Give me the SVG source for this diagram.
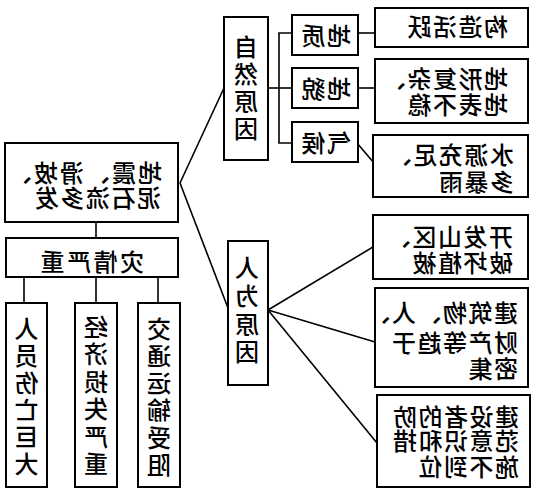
<svg xmlns="http://www.w3.org/2000/svg" width="536" height="500" viewBox="0 0 536 500">
<style>
.box{fill:#fff;stroke:#000;stroke-width:2}
.ln{fill:none;stroke:#000;stroke-width:1.6}
text{font-family:"Noto Sans CJK SC","Noto Sans",sans-serif;font-size:24px;font-weight:500;fill:#000}
.ls3{letter-spacing:1.5px}
.v{text-anchor:middle}
</style>
<rect width="536" height="500" fill="#fff"/>
<g id="connectors">
<line class="ln" x1="180" y1="183" x2="224" y2="88"/>
<line class="ln" x1="180" y1="183" x2="228" y2="308"/>
<line class="ln" x1="96" y1="222" x2="96" y2="238"/>
<line class="ln" x1="24" y1="277" x2="24" y2="303"/>
<line class="ln" x1="96" y1="277" x2="96" y2="303"/>
<line class="ln" x1="158" y1="277" x2="158" y2="303"/>
<line class="ln" x1="268" y1="88" x2="279" y2="88"/>
<polyline class="ln" points="292,33 279,33 279,143 292,143"/>
<line class="ln" x1="279" y1="88" x2="292" y2="88"/>
<line class="ln" x1="358" y1="33" x2="375" y2="33"/>
<line class="ln" x1="358" y1="88" x2="375" y2="88"/>
<line class="ln" x1="357" y1="143" x2="374" y2="163"/>
<line class="ln" x1="268" y1="310" x2="373" y2="247"/>
<line class="ln" x1="268" y1="310" x2="375" y2="342"/>
<line class="ln" x1="268" y1="310" x2="377" y2="443"/>
</g>
<g id="root">
<rect class="box" x="5" y="143" width="173" height="79"/>
<text transform="scale(-1,1)" x="-162" y="182" style="letter-spacing:2px">地震、滑坡、</text>
<text transform="scale(-1,1)" x="-161" y="207" class="ls3">泥石流多发</text>
</g>
<g id="severe">
<rect class="box" x="6" y="238" width="172" height="39"/>
<text transform="scale(-1,1)" x="-144" y="271" style="letter-spacing:2.5px">灾情严重</text>
</g>
<g id="casualty">
<rect class="box" x="6" y="303" width="41" height="184"/>
<text transform="scale(-1,1)" class="v"><tspan x="-26.5" y="338">人</tspan><tspan x="-26.5" y="365">员</tspan><tspan x="-26.5" y="392">伤</tspan><tspan x="-26.5" y="419">亡</tspan><tspan x="-26.5" y="446">巨</tspan><tspan x="-26.5" y="473">大</tspan></text>
</g>
<g id="economy">
<rect class="box" x="75" y="303" width="42" height="184"/>
<text transform="scale(-1,1)" class="v"><tspan x="-96" y="336">经</tspan><tspan x="-96" y="363">济</tspan><tspan x="-96" y="391">损</tspan><tspan x="-96" y="418">失</tspan><tspan x="-96" y="446">严</tspan><tspan x="-96" y="473">重</tspan></text>
</g>
<g id="traffic">
<rect class="box" x="138" y="303" width="42" height="184"/>
<text transform="scale(-1,1)" class="v"><tspan x="-159" y="338">交</tspan><tspan x="-159" y="365">通</tspan><tspan x="-159" y="392">运</tspan><tspan x="-159" y="419">输</tspan><tspan x="-159" y="447">受</tspan><tspan x="-159" y="474">阻</tspan></text>
</g>
<g id="natural">
<rect class="box" x="224" y="17" width="44" height="143"/>
<text transform="scale(-1,1)" class="v"><tspan x="-246" y="56">自</tspan><tspan x="-246" y="83">然</tspan><tspan x="-246" y="110">原</tspan><tspan x="-246" y="138">因</tspan></text>
</g>
<g id="human">
<rect class="box" x="228" y="241" width="40" height="144"/>
<text transform="scale(-1,1)" class="v"><tspan x="-247" y="277">人</tspan><tspan x="-247" y="305">为</tspan><tspan x="-247" y="333">原</tspan><tspan x="-247" y="361">因</tspan></text>
</g>
<g id="geology">
<rect class="box" x="292" y="15" width="66" height="40"/>
<text transform="scale(-1,1)" x="-351" y="45" class="ls3">地质</text>
</g>
<g id="landform">
<rect class="box" x="292" y="68" width="66" height="40"/>
<text transform="scale(-1,1)" x="-351" y="98" class="ls3">地貌</text>
</g>
<g id="climate">
<rect class="box" x="292" y="122" width="66" height="40"/>
<text transform="scale(-1,1)" x="-351" y="152" class="ls3">气候</text>
</g>
<g id="tectonic">
<rect class="box" x="375" y="8" width="153" height="39"/>
<text transform="scale(-1,1)" x="-508" y="36" class="ls3">构造活跃</text>
</g>
<g id="terrain">
<rect class="box" x="375" y="59" width="153" height="64"/>
<text transform="scale(-1,1)" x="-508" y="88" class="ls3">地形复杂、</text>
<text transform="scale(-1,1)" x="-508" y="114" class="ls3">地表不稳</text>
</g>
<g id="water">
<rect class="box" x="373" y="135" width="155" height="62"/>
<text transform="scale(-1,1)" x="-514" y="164" class="ls3">水源充足、</text>
<text transform="scale(-1,1)" x="-514" y="191" class="ls3">多暴雨</text>
</g>
<g id="develop">
<rect class="box" x="373" y="215" width="155" height="64"/>
<text transform="scale(-1,1)" x="-513" y="246" class="ls3">开发山区、</text>
<text transform="scale(-1,1)" x="-513" y="272" class="ls3">破坏植被</text>
</g>
<g id="dense">
<rect class="box" x="375" y="288" width="153" height="99"/>
<text transform="scale(-1,1)" x="-518" y="322" class="ls3">建筑物、人、</text>
<text transform="scale(-1,1)" x="-518" y="352" class="ls3">财产等趋于</text>
<text transform="scale(-1,1)" x="-518" y="378" class="ls3">密集</text>
</g>
<g id="awareness">
<rect class="box" x="377" y="395" width="153" height="92"/>
<text transform="scale(-1,1)" x="-519" y="426" class="ls3">建设者的防</text>
<text transform="scale(-1,1)" x="-519" y="450" class="ls3">范意识和措</text>
<text transform="scale(-1,1)" x="-519" y="476" class="ls3">施不到位</text>
</g>
</svg>
